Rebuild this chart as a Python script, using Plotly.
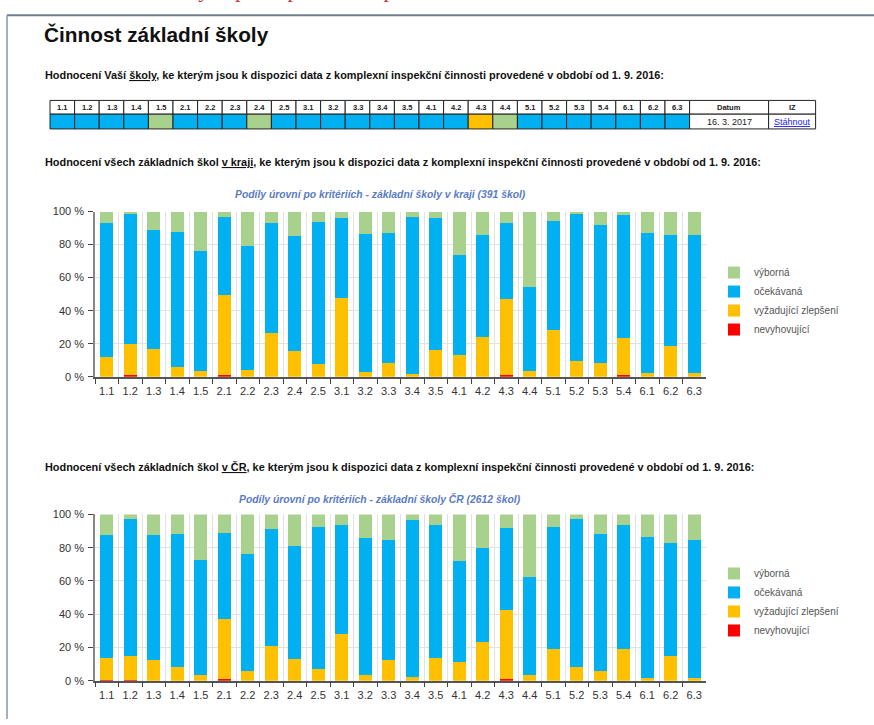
import plotly.graph_objects as go

W, H = 874, 725

criteria = ["1.1", "1.2", "1.3", "1.4", "1.5", "2.1", "2.2", "2.3", "2.4", "2.5",
            "3.1", "3.2", "3.3", "3.4", "3.5", "4.1", "4.2", "4.3", "4.4",
            "5.1", "5.2", "5.3", "5.4", "6.1", "6.2", "6.3"]

level_names = ["nevyhovující", "vyžadující zlepšení", "očekávaná", "výborná"]
level_colors = ["#ff0000", "#ffc000", "#00b0f0", "#a9d18e"]

# School's own evaluation (table row): level per criterion
school_level = ["očekávaná"] * 4 + ["výborná"] + ["očekávaná"] * 3 + ["výborná"] + \
    ["očekávaná"] * 8 + ["vyžadující zlepšení", "výborná"] + ["očekávaná"] * 7
extra_headers = ["Datum", "IZ"]
school_date = "16. 3. 2017"
school_link = "Stáhnout"

# Region (kraj) shares in %
kraj_nevyhovujici = [0, 0.8, 0, 0, 0, 0.8, 0, 0, 0, 0, 0, 0, 0, 0, 0, 0, 0, 1.0, 0,
                     0, 0, 0, 0.8, 0, 0, 0]
kraj_vyzadujici = [11.7, 19.2, 16.8, 6.1, 3.6, 48.5, 4.0, 26.5, 15.4, 7.5, 47.5, 2.6,
                   8.3, 1.4, 16.4, 13.3, 24.2, 46.3, 3.6, 28.3, 9.7, 8.1, 22.4, 2.0,
                   18.4, 2.0]
kraj_ocekavana = [81.6, 78.6, 72.1, 81.6, 72.4, 47.5, 75.2, 66.5, 69.7, 86.0, 48.5,
                  84.1, 78.6, 95.4, 79.6, 60.4, 61.9, 45.6, 50.7, 66.2, 89.1, 83.6,
                  75.0, 84.9, 67.7, 84.1]
kraj_vyborna = [6.7, 1.4, 11.1, 12.3, 24.0, 3.2, 20.8, 7.0, 14.9, 6.5, 4.0, 13.3,
                13.1, 3.2, 4.0, 26.3, 13.9, 7.1, 45.7, 5.5, 1.2, 8.3, 1.8, 13.1,
                13.9, 13.9]

# Czech Republic (ČR) shares in %
cr_nevyhovujici = [0.6, 0.6, 0, 0, 0, 0.8, 0, 0, 0, 0, 0, 0, 0, 0, 0, 0, 0, 1.0, 0,
                   0, 0, 0, 0, 0, 0, 0]
cr_vyzadujici = [13.0, 14.0, 12.3, 8.5, 3.2, 36.0, 5.9, 20.9, 13.2, 7.1, 28.1, 3.4,
                 12.5, 2.0, 13.6, 11.5, 23.3, 41.5, 3.6, 18.8, 8.1, 5.9, 19.0, 1.8,
                 15.0, 1.8]
cr_ocekavana = [74.3, 82.4, 75.4, 80.0, 69.1, 52.1, 70.6, 70.6, 68.0, 85.2, 65.4,
                82.6, 72.1, 94.6, 80.1, 60.6, 56.5, 49.6, 59.0, 73.5, 89.1, 82.6,
                74.5, 84.8, 68.0, 82.8]
cr_vyborna = [12.1, 3.0, 12.3, 11.5, 27.7, 11.1, 23.5, 8.5, 18.8, 7.7, 6.5, 14.0,
              15.4, 3.4, 6.3, 27.9, 20.2, 7.9, 37.4, 7.7, 2.8, 11.5, 6.5, 13.4,
              17.0, 15.4]

y_ticks = [0, 20, 40, 60, 80, 100]
y_ticktext = [f"{v} %" for v in y_ticks]

caption = "Obrázek 2: Ukázka výstupu z aplikace InspIS"
page_title = "Činnost základní školy"
U = "<span style='text-decoration:underline'>{}</span>"
heading_school = ("Hodnocení Vaší " + U.format("školy") + ", "
                  "ke kterým jsou k dispozici data z komplexní inspekční činnosti "
                  "provedené v období od 1. 9. 2016:")
heading_kraj = ("Hodnocení všech základních škol " + U.format("v kraji") + ", "
                "ke kterým jsou k dispozici data z komplexní inspekční činnosti "
                "provedené v období od 1. 9. 2016:")
heading_cr = ("Hodnocení všech základních škol " + U.format("v ČR") + ", "
              "ke kterým jsou k dispozici data z komplexní inspekční činnosti "
              "provedené v období od 1. 9. 2016:")
chart1_title = "Podíly úrovní po kritériích - základní školy v kraji (391 škol)"
chart2_title = "Podíly úrovní po kritériích - základní školy ČR (2612 škol)"


def px(x):
    return x / W


def py(y):
    return 1 - y / H


fig = go.Figure()

# ---- stacked bar charts ----
series_kraj = [kraj_nevyhovujici, kraj_vyzadujici, kraj_ocekavana, kraj_vyborna]
series_cr = [cr_nevyhovujici, cr_vyzadujici, cr_ocekavana, cr_vyborna]

for name, color, vals in zip(level_names, level_colors, series_kraj):
    fig.add_trace(go.Bar(x=criteria, y=vals, name=name, marker=dict(color=color, line=dict(width=0)),
                         xaxis="x", yaxis="y", legend="legend", hoverinfo="x+y+name"))
for name, color, vals in zip(level_names, level_colors, series_cr):
    fig.add_trace(go.Bar(x=criteria, y=vals, name=name, marker=dict(color=color, line=dict(width=0)),
                         xaxis="x2", yaxis="y2", legend="legend2", hoverinfo="x+y+name"))

axis_font = dict(family="Arial, Liberation Sans", size=11, color="#333")
xcommon = dict(type="category", tickson="boundaries", ticks="outside", ticklen=5,
               tickcolor="#444", tickangle=0, ticklabelstandoff=3,
               showgrid=True, gridcolor="#e2e2e2", gridwidth=1,
               showline=True, linecolor="#555", linewidth=1.5, tickfont=axis_font,
               fixedrange=True)
ycommon = dict(range=[0, 100], tickvals=y_ticks, ticktext=y_ticktext, ticks="outside",
               ticklen=5, tickcolor="#444", ticklabelstandoff=2,
               showgrid=True, gridcolor="#e2e2e2",
               showline=True, linecolor="#888", linewidth=1.5, tickfont=axis_font,
               fixedrange=True, zeroline=False)

legend_common = dict(traceorder="reversed", font=dict(family="Arial", size=10, color="#555"),
                     bgcolor="rgba(0,0,0,0)", xanchor="left", yanchor="middle",
                     itemclick=False, itemdoubleclick=False, tracegroupgap=0)

fig.update_layout(
    width=W, height=H,
    margin=dict(l=0, r=0, t=0, b=0),
    paper_bgcolor="white", plot_bgcolor="white",
    barmode="stack", bargap=0.46,
    font=dict(family="Arial, Liberation Sans", color="#222"),
    xaxis=dict(domain=[px(95), px(706)], anchor="y", **xcommon),
    yaxis=dict(domain=[py(377), py(209)], anchor="x", **ycommon),
    xaxis2=dict(domain=[px(95), px(706)], anchor="y2", **xcommon),
    yaxis2=dict(domain=[py(686), py(517)], anchor="x2", **ycommon),
    legend=dict(x=px(714), y=py(300), **legend_common),
    legend2=dict(x=px(714), y=py(606), **legend_common),
    showlegend=True,
)

annotations = [
    dict(text=caption, x=px(10), y=py(-2.5), xanchor="left", yanchor="bottom",
         font=dict(family="Liberation Serif, Times New Roman", size=22, color="#d42a2a")),
    dict(text=f"<b>{page_title}</b>", x=px(42), y=py(29), xanchor="left", yanchor="middle",
         font=dict(family="Arial, Liberation Sans", size=20.8, color="#111")),
    dict(text=f"<b>{heading_school}</b>", x=px(43), y=py(70), xanchor="left", yanchor="middle",
         font=dict(family="Liberation Sans Narrow, Arial Narrow, Arial", size=10.9, color="#111")),
    dict(text=f"<b>{heading_kraj}</b>", x=px(43), y=py(159), xanchor="left", yanchor="middle",
         font=dict(family="Liberation Sans Narrow, Arial Narrow, Arial", size=10.9, color="#111")),
    dict(text=f"<b>{heading_cr}</b>", x=px(43), y=py(469), xanchor="left", yanchor="middle",
         font=dict(family="Liberation Sans Narrow, Arial Narrow, Arial", size=10.9, color="#111")),
    dict(text=f"<b><i>{chart1_title}</i></b>", x=px(380), y=py(192), xanchor="center", yanchor="middle",
         font=dict(family="Arial, Liberation Sans", size=10.35, color="#5b7cc6")),
    dict(text=f"<b><i>{chart2_title}</i></b>", x=px(380), y=py(501), xanchor="center", yanchor="middle",
         font=dict(family="Arial, Liberation Sans", size=10.35, color="#5b7cc6")),
]

shapes = [
    # page frame
    dict(type="line", xref="paper", yref="paper", x0=px(7), x1=1.0, y0=py(9.5), y1=py(9.5),
         line=dict(color="#6f7d8c", width=2)),
    dict(type="line", xref="paper", yref="paper", x0=px(7), x1=px(7), y0=py(9.5), y1=0,
         line=dict(color="#8a96a3", width=1.5)),
]

# ---- table of the school's own evaluation (built from the data lists) ----
color_of = dict(zip(level_names, level_colors))
t_left, crit_w = 50, 24.6
extra_w = [79, 47]
row_top, row_mid, row_bot = 96, 110, 125
col_edges = [t_left + i * crit_w for i in range(len(criteria) + 1)]
col_edges += [col_edges[-1] + extra_w[0], col_edges[-1] + extra_w[0] + extra_w[1]]
header_labels = criteria + extra_headers
row_fills = [color_of[l] for l in school_level] + ["white", "white"]
row_texts = [""] * len(criteria) + [school_date, U.format(school_link)]
row_text_colors = ["#000"] * len(criteria) + ["#222", "#1a1aff"]
small_font = "Liberation Sans Narrow, Arial Narrow, Arial"
for i, lab in enumerate(header_labels):
    x0, x1 = col_edges[i], col_edges[i + 1]
    shapes.append(dict(type="rect", xref="paper", yref="paper", x0=px(x0), x1=px(x1),
                       y0=py(row_mid), y1=py(row_top), fillcolor="white",
                       line=dict(color="#222", width=1), layer="below"))
    shapes.append(dict(type="rect", xref="paper", yref="paper", x0=px(x0), x1=px(x1),
                       y0=py(row_bot), y1=py(row_mid), fillcolor=row_fills[i],
                       line=dict(color="#222", width=1), layer="below"))
    annotations.append(dict(text=f"<b>{lab}</b>", x=px((x0 + x1) / 2), y=py((row_top + row_mid) / 2),
                            xanchor="center", yanchor="middle",
                            font=dict(family=small_font, size=7.5, color="#222")))
    if row_texts[i]:
        annotations.append(dict(text=row_texts[i], x=px((x0 + x1) / 2), y=py((row_mid + row_bot) / 2),
                                xanchor="center", yanchor="middle",
                                font=dict(family=small_font, size=9, color=row_text_colors[i])))

for a in annotations:
    a.update(xref="paper", yref="paper", showarrow=False)
fig.update_layout(annotations=annotations, shapes=shapes)

fig.write_html("out.html", config={"displayModeBar": False},
               post_script="document.body.style.margin='0';document.body.style.overflow='hidden';")
